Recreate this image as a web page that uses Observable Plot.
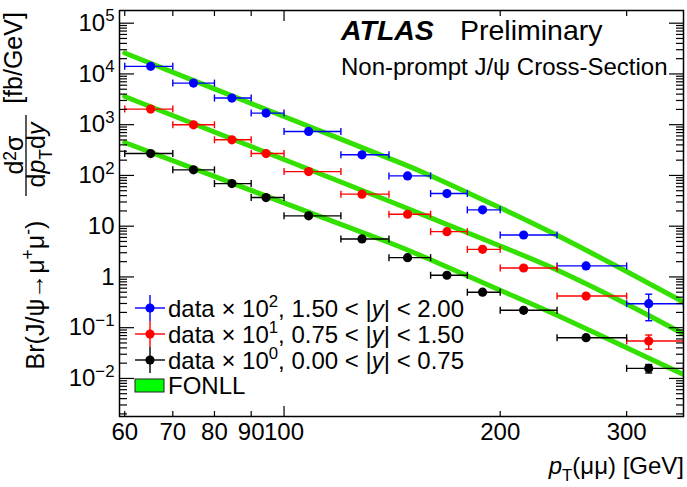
<!DOCTYPE html>
<html><head><meta charset="utf-8">
<script src="https://cdn.jsdelivr.net/npm/d3@7"></script>
<script src="https://cdn.jsdelivr.net/npm/@observablehq/plot@0.6"></script>
<style>
body{margin:0;background:#fff}
svg{font-family:"Liberation Sans",Arial,sans-serif}
</style>
</head><body><div id="chart"></div>
<script>
// ---------- data ----------
const binEdges = [60,70,80,90,100,120,140,160,180,200,240,300,360];
const ptMean   = [65.2,74.8,84.6,94.4,108.2,128.4,148.6,168.6,189,215.6,263.4,322];
const blueVals  = [14100,6600,3350,1690,735,255,98,44,21,6.7,1.65,0.297];
const blueErr   = [250,110,60,30,14,5,2,1,0.5,0.25,0.12,0.16];
const redVals   = [2030,995,504,270,119,42.8,17.2,7.8,3.5,1.5,0.42,0.0547];
const redErr    = [35,16,8,4.5,2,0.8,0.35,0.18,0.09,0.05,0.02,0.017];
const blackVals = [270,129,69,36.7,16,5.6,2.4,1.08,0.5,0.22,0.0635,0.0158];
const blackErr  = [4,2,1.1,0.6,0.3,0.1,0.05,0.025,0.013,0.007,0.003,0.003];
const fonllPt    = [60,80,100,120,140,160,200,240,300,360];
const fonllBlue  = [25800,5070,1450,520,217,99,23.0,6.6,1.28,0.32];
const fonllRed   = [3600,718,206,74.1,31.3,14.6,4.08,1.37,0.293,0.0752];
const fonllBlack = [446,95.5,28.8,10.9,4.77,2.18,0.547,0.176,0.0403,0.012];
const seriesNames  = ["data × 10^{2}, 1.50 < |$y$| < 2.00","data × 10^{1}, 0.75 < |$y$| < 1.50","data × 10^{0}, 0.00 < |$y$| < 0.75"];
const seriesColors = ["#0000ff","#ff0000","#000000"];
const fonllName = "FONLL";
const xTickVals   = [60,70,80,90,100,200,300];
const yTickVals   = [1e-2,1e-1,1,10,100,1e3,1e4,1e5];
const yTickLabels = ["10^{−2}","10^{−1}","1","10","10^{2}","10^{3}","10^{4}","10^{5}"];
const xTitle = "$p$_{T}(μμ) [GeV]";
const atlasLabel = "ATLAS", prelimLabel = "Preliminary", subTitle = "Non-prompt J/ψ Cross-Section";

// ---------- tables ----------
const series = [blueVals, redVals, blackVals];
const errs = [blueErr, redErr, blackErr];
const pts = [];
series.forEach((vals, s) => vals.forEach((v, i) => pts.push({
  s, x: ptMean[i], lo: binEdges[i], hi: binEdges[i+1], y: v, e: errs[s][i], c: seriesColors[s]
})));
const curves = [];
[fonllBlue, fonllRed, fonllBlack].forEach((vals, s) => vals.forEach((v, i) => curves.push({s, x: fonllPt[i], y: v})));

const GREEN = "#33e000";
const minorY = [];
for (let e = -3; e <= 5; e++) for (let m = 2; m <= 9; m++) { const v = m * 10 ** e; if (v > 10 ** -2.75 && v < 10 ** 5.25) minorY.push(v); }
const yLabelMap = new Map(yTickVals.map((v, i) => [v, yTickLabels[i]]));

const vCap = {draw(ctx, size){ const h = Math.sqrt(size/Math.PI); ctx.moveTo(0,-h); ctx.lineTo(0,h); }};
const hCap = {draw(ctx, size){ const h = Math.sqrt(size/Math.PI); ctx.moveTo(-h,0); ctx.lineTo(h,0); }};

const W = 687, H = 487, mL = 119, mR = 4, mT = 10, mB = 71;
const FS = 24;
const tk = {tickFormat: () => "", strokeWidth: 1.2, label: null};

const svg = Plot.plot({
  width: W, height: H, marginLeft: mL, marginRight: mR, marginTop: mT, marginBottom: mB,
  style: {fontFamily: "Liberation Sans, Arial, sans-serif", background: "white"},
  x: {type: "log", domain: [59, 360], axis: null},
  y: {type: "log", domain: [10 ** -2.75, 10 ** 5.25], axis: null},
  marks: [
    Plot.line(curves, {x: "x", y: "y", z: "s", stroke: GREEN, strokeWidth: 5, curve: "natural", clip: true}),
    Plot.link(pts, {x1: "lo", x2: "hi", y1: "y", y2: "y", stroke: "c", strokeWidth: 1.4, clip: true}),
    Plot.dot(pts, {x: "lo", y: "y", symbol: vCap, r: 3.5, stroke: "c", strokeWidth: 1.4, clip: true}),
    Plot.dot(pts, {x: "hi", y: "y", symbol: vCap, r: 3.5, stroke: "c", strokeWidth: 1.4, clip: true}),
    Plot.link(pts, {x1: "x", x2: "x", y1: d => d.y - d.e, y2: d => d.y + d.e, stroke: "c", strokeWidth: 1.4}),
    Plot.dot(pts, {x: "x", y: d => d.y - d.e, symbol: hCap, r: 3.5, stroke: "c", strokeWidth: 1.4}),
    Plot.dot(pts, {x: "x", y: d => d.y + d.e, symbol: hCap, r: 3.5, stroke: "c", strokeWidth: 1.4}),
    Plot.dot(pts, {x: "x", y: "y", r: 4.6, fill: "c", stroke: null}),
    // axes ticks (inward)
    Plot.axisY(yTickVals, {anchor: "left", tickSize: -15, ...tk}),
    Plot.axisY(minorY, {anchor: "left", tickSize: -8, ...tk}),
    Plot.axisY(yTickVals, {anchor: "right", tickSize: -15, ...tk}),
    Plot.axisY(minorY, {anchor: "right", tickSize: -8, ...tk}),
    Plot.axisX([100], {anchor: "bottom", tickSize: -10, ...tk}),
    Plot.axisX([60,70,80,90,200,300], {anchor: "bottom", tickSize: -5, ...tk}),
    Plot.axisX([100], {anchor: "top", tickSize: -10, ...tk}),
    Plot.axisX([60,70,80,90,200,300], {anchor: "top", tickSize: -5, ...tk}),
    // labels
    Plot.axisY(yTickVals, {anchor: "left", tickSize: 0, tickPadding: 5, tickFormat: d => yLabelMap.get(d), fontSize: FS, label: null}),
    Plot.axisX(xTickVals, {anchor: "bottom", tickSize: 0, tickPadding: 6, tickFormat: d => String(d), fontSize: FS, label: null}),
    Plot.frame({stroke: "black", strokeWidth: 1.5})
  ]
});

// ---------- rich text helper ----------
function rich(sel, str, fs, raise = 0.4) {
  const parts = str.split(/(\^\{[^}]*\}|_\{[^}]*\}|\$[^$]*\$)/).filter(s => s !== "");
  let shift = 0;
  for (const p of parts) {
    let txt = p, dy = 0, size = null, italic = false;
    if (p.startsWith("^{")) { txt = p.slice(2, -1); dy = -raise * fs; size = 0.7 * fs; }
    else if (p.startsWith("_{")) { txt = p.slice(2, -1); dy = 0.28 * fs; size = 0.7 * fs; }
    else if (p.startsWith("$")) { txt = p.slice(1, -1); italic = true; }
    const ts = sel.append("tspan").text(txt);
    const d = dy - shift; if (d) ts.attr("dy", d); shift = dy;
    if (size) ts.attr("font-size", size);
    if (italic) ts.attr("font-style", "italic");
  }
}
const root = d3.select(svg);
root.selectAll("text").each(function () {
  const t = this.textContent;
  if (/\^\{|_\{|\$/.test(t)) { const s = d3.select(this); s.text(null); rich(s, t, FS); }
});

function addText(str, x, y, fs, opts = {}) {
  const t = root.append("text").attr("x", x).attr("y", y).attr("font-size", fs)
    .attr("fill", "black").attr("text-anchor", opts.anchor || "start");
  if (opts.weight) t.attr("font-weight", opts.weight);
  if (opts.style) t.attr("font-style", opts.style);
  if (opts.transform) t.attr("transform", opts.transform);
  rich(t, str, fs, opts.raise ?? 0.4);
  return t;
}

// ATLAS label
addText(atlasLabel, 341, 40, 28.5, {weight: "bold", style: "italic"});
addText(prelimLabel, 460, 40, 28.5);
addText(subTitle, 341, 75, 24);

// x title
addText(xTitle, 684, 474, FS, {anchor: "end"});

// y title (rotated)
const YT = 25;
addText("Br(J/ψ→μ^{+}μ^{-})", 0, 0, YT, {anchor: "middle", transform: "translate(44,295) rotate(-90)"});
addText("d^{2}σ", 0, 0, YT, {anchor: "middle", raise: 0.3, transform: "translate(23,155) rotate(-90)"});
addText("d$p$_{T}d$y$", 0, 0, YT, {anchor: "middle", transform: "translate(45,155) rotate(-90)"});
root.append("line").attr("x1", 26).attr("x2", 26).attr("y1", 115).attr("y2", 196).attr("stroke", "black").attr("stroke-width", 1.3);
addText("[fb/GeV]", 0, 0, YT, {anchor: "middle", transform: "translate(22,58) rotate(-90)"});

// legend
const rowY = [308, 334, 360];
seriesNames.forEach((name, i) => {
  const y = rowY[i], c = seriesColors[i];
  root.append("line").attr("x1", 135).attr("x2", 165).attr("y1", y).attr("y2", y).attr("stroke", c).attr("stroke-width", 1.4);
  root.append("line").attr("x1", 150).attr("x2", 150).attr("y1", y - 13).attr("y2", y + 13).attr("stroke", c).attr("stroke-width", 1.4);
  root.append("circle").attr("cx", 150).attr("cy", y).attr("r", 4.6).attr("fill", c);
  addText(name, 168, y + 8.5, FS);
});
root.append("rect").attr("x", 135).attr("y", 379).attr("width", 29).attr("height", 13)
  .attr("fill", "#00ff00").attr("stroke", "#222").attr("stroke-width", 1);
addText(fonllName, 168, 394, FS);

document.getElementById("chart").appendChild(svg);
</script>
</body></html>
